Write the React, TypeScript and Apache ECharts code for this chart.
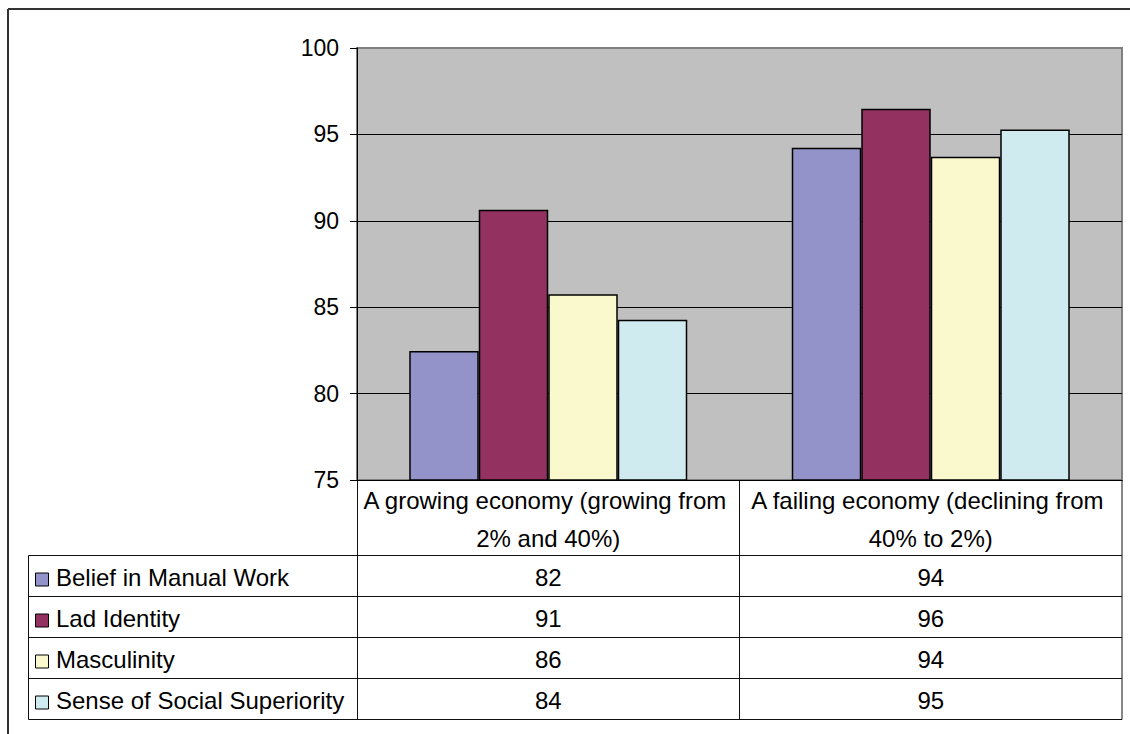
import React, { useEffect, useRef } from "react";
import * as echarts from "echarts";

// Categories shown along the x axis (and as the data-table header)
const categories = [
  "A growing economy (growing from 2% and 40%)",
  "A failing economy (declining from 40% to 2%)",
];

// Series, one value per category
const seriesNames = [
  "Belief in Manual Work",
  "Lad Identity",
  "Masculinity",
  "Sense of Social Superiority",
];
const beliefInManualWork = [82.47, 94.23];
const ladIdentity = [90.64, 96.49];
const masculinity = [85.75, 93.71];
const socialSuperiority = [84.27, 95.29];
const seriesValues = [beliefInManualWork, ladIdentity, masculinity, socialSuperiority];
const seriesColors = ["#9393C9", "#933160", "#FAF8CD", "#CFEBEF"];

// Value axis range
const yMin = 75;
const yMax = 100;
const yStep = 5;

const FONT = '"Liberation Sans", Arial, Helvetica, sans-serif';
const W = 1130;
const H = 734;

// Layout
const plotLeft = 357;
const plotTop = 48;
const plotRight = 1122;
const plotBottom = 480;
const tableLeft = 28.5;
const headerBottom = 555.5;
const rowHeight = 41;
const tableFontSize = 24;

export default function App() {
  const ref = useRef<HTMLDivElement>(null);

  useEffect(() => {
    if (!ref.current) return;
    const chart = echarts.init(ref.current, undefined, { renderer: "svg" });

    chart.setOption({
      animation: false,
      backgroundColor: "#ffffff",
      textStyle: { fontFamily: FONT },
      grid: {
        left: plotLeft,
        top: plotTop,
        width: plotRight - plotLeft,
        height: plotBottom - plotTop,
        show: true,
        backgroundColor: "#C0C0C0",
        borderColor: "#808080",
        borderWidth: 2,
        containLabel: false,
      },
      xAxis: {
        type: "category",
        data: categories,
        axisLine: { show: true, lineStyle: { color: "#000", width: 1 } },
        axisTick: { show: false },
        axisLabel: {
          interval: 0,
          color: "#000",
          fontFamily: FONT,
          fontSize: tableFontSize,
          width: 372,
          overflow: "break",
          lineHeight: 38,
          margin: 1,
          align: "center",
        },
      },
      yAxis: {
        type: "value",
        min: yMin,
        max: yMax,
        interval: yStep,
        axisLine: { show: true, lineStyle: { color: "#000", width: 1 } },
        axisTick: { show: true, inside: false, length: 7, lineStyle: { color: "#000" } },
        axisLabel: { color: "#000", fontFamily: FONT, fontSize: 23, margin: 18 },
        splitLine: { show: true, showMaxLine: false, lineStyle: { color: "#000", width: 1 } },
      },
      series: seriesNames.map((name, i) => ({
        type: "bar",
        name,
        data: seriesValues[i],
        barWidth: 69.5,
        barGap: "0%",
        itemStyle: { color: seriesColors[i], borderColor: "#000", borderWidth: 1.5 },
        emphasis: { disabled: true },
      })),
    });

    // Data table below the plot, positioned from the category axis
    const colCenters = categories.map((c) =>
      chart.convertToPixel({ xAxisIndex: 0 }, c) as number
    );
    const colMid = (plotLeft + plotRight) / 2;
    const tableBottom = headerBottom + rowHeight * seriesNames.length;
    const lineStyle = { stroke: "#111", lineWidth: 1 };
    const font = `${tableFontSize}px ${FONT}`;

    const elements: any[] = [];
    // outer chart frame
    elements.push({ type: "line", silent: true, shape: { x1: 8, y1: 9, x2: W, y2: 9 }, style: { stroke: "#333", lineWidth: 2 } });
    elements.push({ type: "line", silent: true, shape: { x1: 8, y1: 9, x2: 8, y2: H }, style: { stroke: "#333", lineWidth: 2 } });

    // horizontal rules of the table
    for (let r = 0; r <= seriesNames.length; r++) {
      const y = headerBottom + r * rowHeight;
      elements.push({ type: "line", silent: true, shape: { x1: tableLeft, y1: y, x2: plotRight, y2: y }, style: lineStyle });
    }
    // vertical rules
    elements.push({ type: "line", silent: true, shape: { x1: tableLeft, y1: headerBottom, x2: tableLeft, y2: tableBottom }, style: lineStyle });
    [plotLeft + 0.5, colMid, plotRight].forEach((x) => {
      elements.push({ type: "line", silent: true, shape: { x1: x, y1: plotBottom, x2: x, y2: tableBottom }, style: lineStyle });
    });

    // rows: legend key, series name, rounded values
    seriesNames.forEach((name, i) => {
      const cy = headerBottom + i * rowHeight + rowHeight / 2;
      elements.push({
        type: "rect",
        silent: true,
        shape: { x: 35.5, y: cy - 3, width: 13, height: 13 },
        style: { fill: seriesColors[i], stroke: "#000", lineWidth: 1 },
      });
      elements.push({
        type: "text",
        silent: true,
        x: 56,
        y: cy + 1,
        style: { text: name, font, fill: "#000", verticalAlign: "middle", align: "left" },
      });
      seriesValues[i].forEach((v, j) => {
        elements.push({
          type: "text",
          silent: true,
          x: colCenters[j],
          y: cy + 1,
          style: { text: String(Math.round(v)), font, fill: "#000", verticalAlign: "middle", align: "center" },
        });
      });
    });

    chart.setOption({ graphic: { elements } });

    return () => chart.dispose();
  }, []);

  return (
    <div
      ref={ref}
      style={{ position: "absolute", left: 0, top: 0, width: W, height: H }}
    />
  );
}
